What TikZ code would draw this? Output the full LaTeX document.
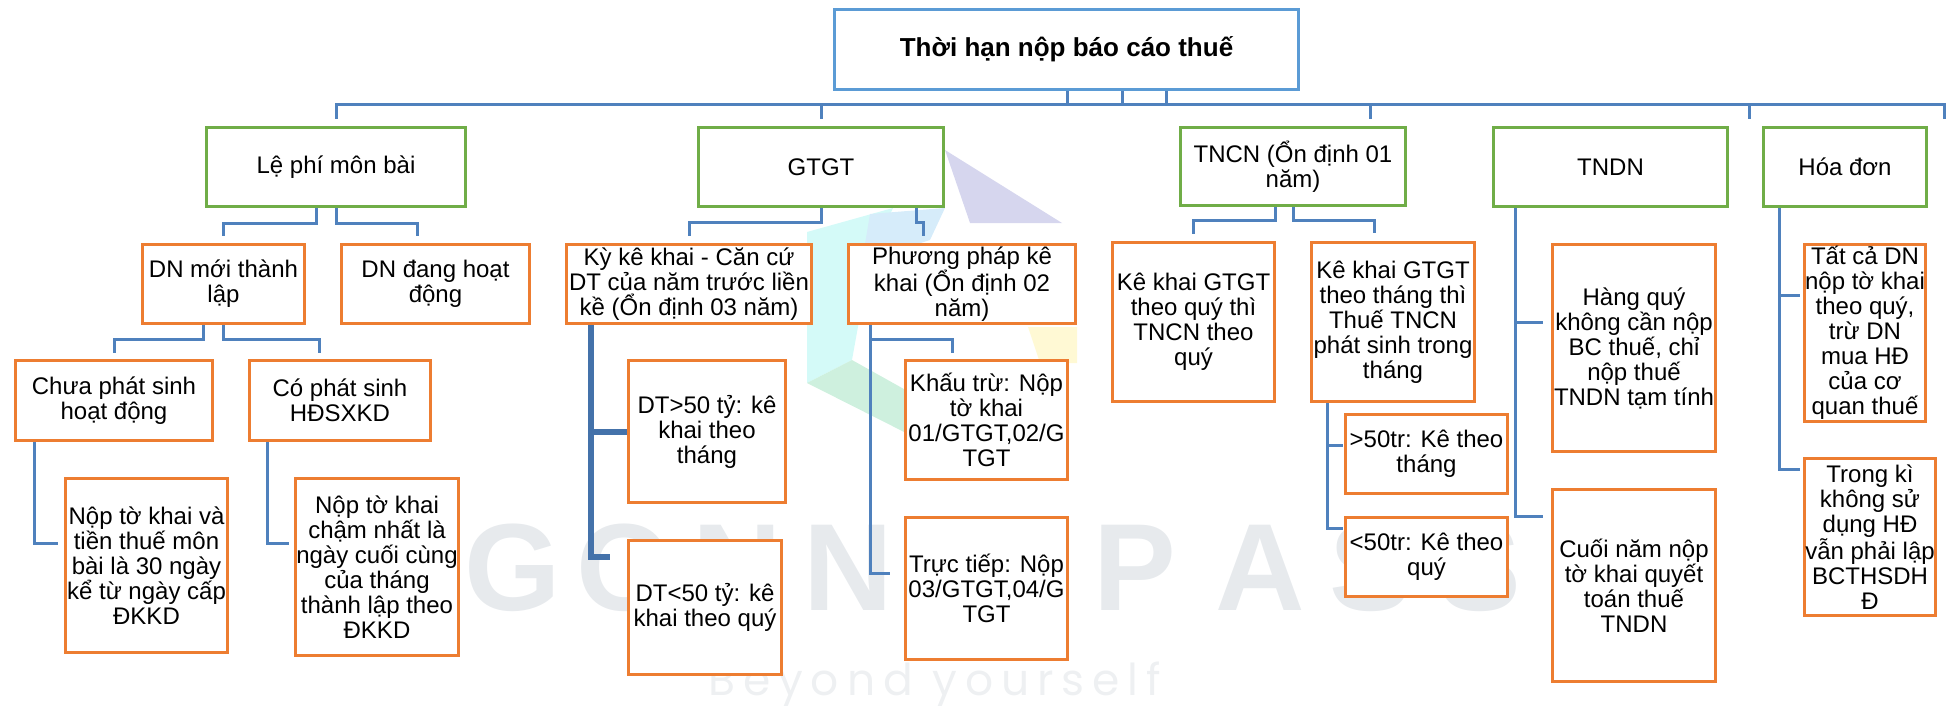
\documentclass[tikz,border=0pt]{standalone}
\usepackage{fontspec}
\setmainfont{Liberation Sans}
\newfontfamily\wmfontb{Poppins}[LetterSpace=18]
\definecolor{gr}{RGB}{112,173,71}
\definecolor{orr}{RGB}{237,125,49}
\definecolor{ln}{RGB}{79,129,189}
\definecolor{rt}{RGB}{91,155,213}
\definecolor{dk}{RGB}{68,114,170}
\definecolor{wm}{RGB}{231,234,237}
\definecolor{wmb}{RGB}{238,240,242}
\definecolor{lgA}{RGB}{214,214,238}
\definecolor{lgB}{RGB}{212,250,248}
\definecolor{lgC}{RGB}{206,240,222}
\definecolor{lgD}{RGB}{255,249,212}
\definecolor{lgE}{RGB}{214,236,250}
\newcommand{\bx}[7]{\node[#2, minimum width={(#5-#3-3)*1pt}, minimum height={(#6-#4-3)*1pt}] (#1) at ({(#3+#5)/2},{(#4+#6)/2}) {#7};}
\tikzset{
  base/.style={fill=white, inner sep=0pt, align=center, font=\fontsize{24}{25}\selectfont},
  gbox/.style={base, draw=gr, line width=3pt},
  obox/.style={base, draw=orr, line width=3.3pt},
  rbox/.style={base, draw=rt, line width=3pt, font=\fontsize{26}{27}\selectfont\bfseries},
  conn/.style={draw=ln, line width=3pt},
  tconn/.style={draw=dk, line width=5.5pt},
  wmletter/.style={text=wm, font=\bfseries\fontsize{124}{124}\selectfont, inner sep=0pt, anchor=base},
}
\begin{document}
\begin{tikzpicture}[x=1pt,y=-1pt]
\useasboundingbox (0,0) rectangle (1946,706);
% logo watermark
\fill[lgB] (807,232) -- (893,208) -- (870,260) -- (852,360) -- (807,383) -- cycle;
\fill[lgE] (870,214) -- (945,208) -- (930,240) -- (862,262) -- cycle;
\fill[lgC] (807,383) -- (852,360) -- (945,412) -- (920,440) -- cycle;
\fill[lgA] (945,150) -- (1062,223) -- (970,223) -- cycle;
\fill[lgD] (1028,327) -- (1077,327) -- (1077,363) -- (1040,363) -- cycle;
\foreach \c/\x [count=\i] in {G/513,O/625,N/737,N/848,A/991,P/1135,A/1260,S/1371,S/1480}
  \node[wmletter] (wm\i) at (\x,610) {\c};
\node[text=wmb, font=\wmfontb\fontsize{44}{44}\selectfont, inner sep=0pt, anchor=base west] (wmsub) at (708,695) {Beyond yourself};
% connectors
\draw[conn] (1067,91) -- (1067,105) (1122,91) -- (1122,105) (1166,91) -- (1166,105);
\draw[conn] (336,119) -- (336,105) -- (1944,105) -- (1944,119);
\draw[conn] (821,105) -- (821,119) (1370,105) -- (1370,119) (1749,105) -- (1749,119);
\draw[conn] (316,208) |- (223,223) -- (223,236);
\draw[conn] (336,208) |- (417,223) -- (417,236);
\draw[conn] (203,325) |- (114,339) -- (114,353);
\draw[conn] (223,325) |- (319,339) -- (319,353);
\draw[conn] (34,442) |- (58,543);
\draw[conn] (267,442) |- (289,543);
\draw[conn] (821,208) |- (689,222) -- (689,236);
\draw[conn] (916,208) |- (923,222) -- (923,236);
\draw[tconn] (591,325) |- (610,557);
\draw[tconn] (591,432) -- (627,432);
\draw[conn] (870,325) |- (890,573);
\draw[conn] (870,339) -| (952,353);
\draw[conn] (1275,207) |- (1193,220) -- (1193,234);
\draw[conn] (1293,207) |- (1374,220) -- (1374,233);
\draw[conn] (1327,403) |- (1343,528);
\draw[conn] (1327,445) -- (1343,445);
\draw[conn] (1515,208) |- (1543,516);
\draw[conn] (1515,322) -- (1543,322);
\draw[conn] (1779,208) |- (1800,469);
\draw[conn] (1779,295) -- (1800,295);
% boxes
\bx{root}{rbox}{833}{8}{1300}{91}{Thời hạn nộp báo cáo thuế}
\bx{lephi}{gbox}{205}{126}{467}{208}{Lệ phí môn bài}
\bx{gtgt}{gbox}{697}{126}{945}{208}{GTGT}
\bx{tncn}{gbox}{1179}{126}{1407}{207}{TNCN (Ổn định 01\\năm)}
\bx{tndn}{gbox}{1492}{126}{1729}{208}{TNDN}
\bx{hoadon}{gbox}{1762}{126}{1928}{208}{Hóa đơn}
\bx{dnmoi}{obox}{141}{243}{306}{325}{DN mới thành\\lập}
\bx{dndang}{obox}{340}{243}{531}{325}{DN đang hoạt\\động}
\bx{chua}{obox}{14}{359}{214}{442}{Chưa phát sinh\\hoạt động}
\bx{co}{obox}{248}{359}{432}{442}{Có phát sinh\\HĐSXKD}
\bx{nopva}{obox}{64}{477}{229}{654}{Nộp tờ khai và\\tiền thuế môn\\bài là 30 ngày\\kể từ ngày cấp\\ĐKKD}
\bx{nopcham}{obox}{294}{477}{460}{657}{Nộp tờ khai\\chậm nhất là\\ngày cuối cùng\\của tháng\\thành lập theo\\ĐKKD}
\bx{kyke}{obox}{565}{243}{813}{325}{Kỳ kê khai - Căn cứ\\DT của năm trước liền\\kề (Ổn định 03 năm)}
\bx{ppkk}{obox}{847}{243}{1077}{325}{Phương pháp kê\\khai (Ổn định 02\\năm)}
\bx{dtA}{obox}{627}{359}{787}{504}{DT>50 tỷ: kê\\khai theo\\tháng}
\bx{dtB}{obox}{627}{539}{783}{676}{DT<50 tỷ: kê\\khai theo quý}
\bx{khautru}{obox}{904}{359}{1069}{481}{Khấu trừ: Nộp\\tờ khai\\01/GTGT,02/G\\TGT}
\bx{tructiep}{obox}{904}{516}{1069}{661}{Trực tiếp: Nộp\\03/GTGT,04/G\\TGT}
\bx{kkquy}{obox}{1111}{241}{1276}{403}{Kê khai GTGT\\theo quý thì\\TNCN theo\\quý}
\bx{kkthang}{obox}{1310}{241}{1476}{403}{Kê khai GTGT\\theo tháng thì\\Thuế TNCN\\phát sinh trong\\tháng}
\bx{trA}{obox}{1344}{413}{1509}{495}{>50tr: Kê theo\\tháng}
\bx{trB}{obox}{1344}{516}{1509}{598}{<50tr: Kê theo\\quý}
\bx{hangquy}{obox}{1551}{243}{1717}{453}{Hàng quý\\không cần nộp\\BC thuế, chỉ\\nộp thuế\\TNDN tạm tính}
\bx{cuoinam}{obox}{1551}{488}{1717}{683}{Cuối năm nộp\\tờ khai quyết\\toán thuế\\TNDN}
\bx{tatca}{obox}{1803}{243}{1927}{423}{Tất cả DN\\nộp tờ khai\\theo quý,\\trừ DN\\mua HĐ\\của cơ\\quan thuế}
\bx{trongki}{obox}{1803}{457}{1937}{617}{Trong kì\\không sử\\dụng HĐ\\vẫn phải lập\\BCTHSDH\\Đ}
\end{tikzpicture}
\end{document}
